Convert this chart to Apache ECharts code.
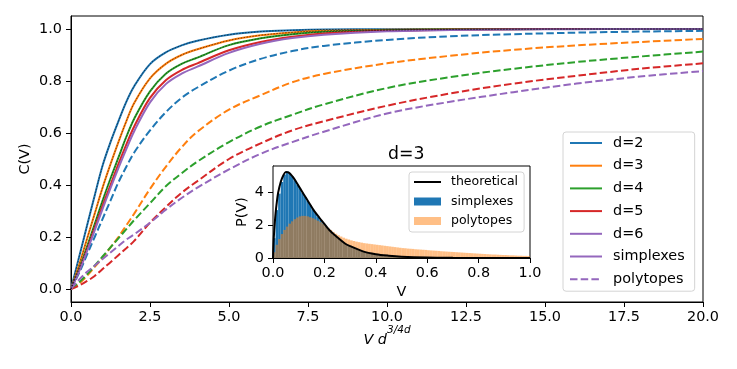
<!DOCTYPE html>
<html>
<head>
<meta charset="utf-8">
<script src="https://cdn.jsdelivr.net/npm/echarts@6/dist/echarts.min.js"></script>
<style>
  html, body { margin: 0; padding: 0; background: #fff; }
  #chart { width: 737px; height: 369px; }
</style>
</head>
<body>
<div id="chart"></div>
<script>
// main plot: cumulative C(V) against rescaled volume
var xs = [0, 0.25, 0.5, 0.75, 1, 1.25, 1.5, 1.75, 2, 2.5, 3, 3.5, 4, 5, 6, 7, 8, 10, 12, 14, 16, 18, 20];

var simplex2 = [0, 0.12, 0.24, 0.36, 0.475, 0.565, 0.645, 0.72, 0.78, 0.865, 0.91, 0.937, 0.955, 0.978, 0.99, 0.995, 0.998, 0.999, 1, 1, 1, 1, 1];
var simplex3 = [0, 0.09, 0.19, 0.29, 0.39, 0.48, 0.565, 0.645, 0.715, 0.81, 0.866, 0.9, 0.922, 0.956, 0.976, 0.987, 0.993, 0.997, 0.999, 1, 1, 1, 1];
var simplex4 = [0, 0.075, 0.16, 0.25, 0.34, 0.425, 0.505, 0.585, 0.655, 0.76, 0.828, 0.866, 0.89, 0.938, 0.964, 0.98, 0.989, 0.995, 0.998, 0.999, 1, 1, 1];
var simplex5 = [0, 0.07, 0.15, 0.235, 0.32, 0.4, 0.48, 0.555, 0.625, 0.735, 0.803, 0.842, 0.868, 0.918, 0.95, 0.97, 0.983, 0.993, 0.997, 0.999, 1, 1, 1];
var simplex6 = [0, 0.066, 0.143, 0.225, 0.308, 0.388, 0.465, 0.538, 0.607, 0.718, 0.788, 0.828, 0.855, 0.908, 0.943, 0.965, 0.978, 0.991, 0.996, 0.998, 0.999, 1, 1];

var poly2 = [0, 0.06, 0.13, 0.2, 0.27, 0.34, 0.41, 0.47, 0.525, 0.61, 0.68, 0.735, 0.775, 0.84, 0.885, 0.915, 0.935, 0.958, 0.972, 0.98, 0.986, 0.99, 0.993];
var poly3 = [0, 0.02, 0.05, 0.085, 0.12, 0.16, 0.2, 0.245, 0.29, 0.385, 0.47, 0.545, 0.605, 0.69, 0.745, 0.795, 0.827, 0.868, 0.897, 0.92, 0.937, 0.95, 0.962];
var poly4 = [0, 0.025, 0.055, 0.09, 0.125, 0.16, 0.195, 0.23, 0.265, 0.33, 0.395, 0.445, 0.49, 0.565, 0.625, 0.67, 0.71, 0.773, 0.815, 0.847, 0.873, 0.894, 0.913];
var poly5 = [0, 0.013, 0.03, 0.05, 0.077, 0.103, 0.13, 0.157, 0.185, 0.255, 0.315, 0.37, 0.415, 0.5, 0.56, 0.61, 0.645, 0.705, 0.752, 0.79, 0.82, 0.847, 0.868];
var poly6 = [0, 0.035, 0.065, 0.09, 0.115, 0.14, 0.165, 0.19, 0.21, 0.255, 0.305, 0.35, 0.39, 0.46, 0.52, 0.565, 0.605, 0.675, 0.72, 0.757, 0.79, 0.817, 0.838];

var dims = ['d=2', 'd=3', 'd=4', 'd=5', 'd=6'];
var colors = ['#1f77b4', '#ff7f0e', '#2ca02c', '#d62728', '#9467bd'];
var simplexCurves = [simplex2, simplex3, simplex4, simplex5, simplex6];
var polyCurves = [poly2, poly3, poly4, poly5, poly6];
// thin dark dotted theory curves sit on top of these simplex curves
var theoryOn = ['d=2', 'd=3', 'd=4'];

var xTicks = [0, 2.5, 5, 7.5, 10, 12.5, 15, 17.5, 20];
var yTicks = [0, 0.2, 0.4, 0.6, 0.8, 1.0];

// inset: d=3 volume histograms, bins of 0.01 from 0
var binWidth = 0.01;
var histSimplex = [1.2, 2.9, 3.9, 4.6, 5.05, 5.25, 5.15, 4.95, 4.7, 4.45,
  4.2, 3.95, 3.7, 3.45, 3.2, 2.95, 2.72, 2.5, 2.3, 2.1,
  1.92, 1.74, 1.57, 1.42, 1.28, 1.15, 1.03, 0.93, 0.84, 0.75,
  0.67, 0.6, 0.53, 0.47, 0.42, 0.37, 0.33, 0.29, 0.26, 0.23,
  0.2, 0.18, 0.16, 0.14, 0.12, 0.105, 0.09, 0.08, 0.07, 0.06,
  0.05, 0.045, 0.04, 0.035, 0.03, 0.026, 0.022, 0.019, 0.016, 0.014,
  0.012, 0.01, 0.008, 0.007, 0.006, 0.005, 0.004, 0.003, 0.003, 0.002];
var histPoly = [0.35, 0.8, 1.15, 1.45, 1.7, 1.9, 2.08, 2.22, 2.35, 2.45,
  2.52, 2.55, 2.55, 2.52, 2.47, 2.41, 2.34, 2.26, 2.17, 2.07,
  1.95, 1.83, 1.7, 1.58, 1.47, 1.38, 1.3, 1.23, 1.17, 1.12,
  1.07, 1.03, 0.99, 0.96, 0.93, 0.9, 0.88, 0.86, 0.84, 0.82,
  0.8, 0.78, 0.76, 0.74, 0.72, 0.7, 0.68, 0.66, 0.64, 0.62,
  0.6, 0.59, 0.57, 0.56, 0.55, 0.53, 0.52, 0.51, 0.5, 0.49,
  0.47, 0.46, 0.45, 0.44, 0.43, 0.41, 0.4, 0.39, 0.38, 0.37,
  0.36, 0.35, 0.34, 0.33, 0.32, 0.31, 0.3, 0.29, 0.28, 0.27,
  0.26, 0.25, 0.24, 0.23, 0.22, 0.21, 0.21, 0.2, 0.19, 0.18,
  0.18, 0.17, 0.16, 0.16, 0.15, 0.14, 0.14, 0.13, 0.13, 0.12];
var theoV = [0, 0.002, 0.005, 0.01, 0.015, 0.02, 0.03, 0.04, 0.05, 0.06, 0.08, 0.1, 0.12, 0.14, 0.16, 0.18, 0.2, 0.22, 0.25, 0.28, 0.3, 0.35, 0.4, 0.45, 0.5, 0.6, 0.7, 0.8, 0.9, 1.0];
var theoP = [0, 0.9, 1.7, 2.7, 3.4, 3.95, 4.6, 5.0, 5.2, 5.18, 4.85, 4.35, 3.85, 3.35, 2.85, 2.45, 2.07, 1.68, 1.25, 0.88, 0.72, 0.4, 0.23, 0.14, 0.08, 0.025, 0.008, 0.003, 0.001, 0];
var insetXTicks = [0, 0.2, 0.4, 0.6, 0.8, 1.0];
var insetYTicks = [0, 2, 4];

var font = 'DejaVu Sans';
var dashed = [7.5, 3.2];

function pairs(xv, yv) {
  return xv.map(function (x, i) { return [x, yv[i]]; });
}
function binPairs(h) {
  return h.map(function (v, i) { return [i * binWidth, v]; });
}
function histRender(params, api) {
  var x0 = api.value(0);
  var p0 = api.coord([x0, 0]);
  var p1 = api.coord([x0 + binWidth, api.value(1)]);
  return {
    type: 'rect',
    shape: { x: p0[0], y: p1[1], width: p1[0] - p0[0], height: p0[1] - p1[1] },
    style: api.style()
  };
}

function axisStyle(extra) {
  var base = {
    axisLine: { show: true, onZero: false, lineStyle: { color: '#000', width: 1 } },
    axisTick: { show: true, length: 5, lineStyle: { color: '#000' } },
    splitLine: { show: false },
    axisLabel: { color: '#000', fontSize: 14.4, fontFamily: font },
    nameTextStyle: { color: '#000', fontSize: 14.4, fontFamily: font },
    nameMoveOverlap: false
  };
  return Object.assign(base, extra);
}

var series = [];
for (var i = 0; i < 5; i++) {
  series.push({
    name: dims[i], type: 'line', xAxisIndex: 0, yAxisIndex: 0,
    data: pairs(xs, simplexCurves[i]), symbol: 'none', smooth: 0.35,
    color: colors[i], lineStyle: { width: 2 }, z: 3
  });
  if (theoryOn.indexOf(dims[i]) >= 0) {
    series.push({
      name: dims[i] + ' theory', type: 'line', xAxisIndex: 0, yAxisIndex: 0,
      data: pairs(xs, simplexCurves[i]), symbol: 'none', smooth: 0.35, silent: true,
      color: 'rgba(0,0,0,0.55)', lineStyle: { width: 1, type: [1.5, 1.5] }, z: 4
    });
  }
  series.push({
    name: dims[i] + ' polytopes', type: 'line', xAxisIndex: 0, yAxisIndex: 0,
    data: pairs(xs, polyCurves[i]), symbol: 'none', smooth: 0.35,
    color: colors[i], lineStyle: { width: 2, type: dashed }, z: 3
  });
}
// legend-only entries
series.push({ name: 'simplexes', type: 'line', data: [], symbol: 'none', color: '#9467bd', lineStyle: { width: 2 } });
series.push({ name: 'polytopes', type: 'line', data: [], symbol: 'none', color: '#9467bd', lineStyle: { width: 2, type: dashed } });

// inset series
series.push({
  name: 'simplexes hist', type: 'custom', xAxisIndex: 1, yAxisIndex: 1, clip: true,
  data: binPairs(histSimplex), renderItem: histRender,
  itemStyle: { color: '#1f77b4' }, z: 5
});
series.push({
  name: 'polytopes hist', type: 'custom', xAxisIndex: 1, yAxisIndex: 1, clip: true,
  data: binPairs(histPoly), renderItem: histRender,
  itemStyle: { color: 'rgba(255,127,14,0.5)' }, z: 6
});
series.push({
  name: 'theoretical', type: 'line', xAxisIndex: 1, yAxisIndex: 1,
  data: pairs(theoV, theoP), symbol: 'none', smooth: 0.3,
  color: '#000', lineStyle: { width: 2 }, z: 7
});

var chart = echarts.init(document.getElementById('chart'), null, { renderer: 'canvas' });
chart.setOption({
  animation: false,
  backgroundColor: '#fff',
  title: {
    text: 'd=3', left: 383, top: 141,
    textStyle: { fontSize: 17.3, fontWeight: 'normal', fontFamily: font, color: '#000' }
  },
  grid: [
    { left: 71, top: 16, right: 34, bottom: 67, show: true, borderColor: '#000', borderWidth: 1, backgroundColor: 'transparent' },
    { left: 273, top: 166, right: 207, bottom: 111, show: true, borderColor: '#000', borderWidth: 1, backgroundColor: '#fff', z: 4 }
  ],
  legend: [
    {
      orient: 'vertical', left: 563, top: 132,
      data: ['d=2', 'd=3', 'd=4', 'd=5', 'd=6', 'simplexes', 'polytopes'],
      itemWidth: 32, itemHeight: 14, itemGap: 8.7, selectedMode: false,
      padding: [4, 10, 5, 6],
      itemStyle: { opacity: 0 },
      backgroundColor: 'rgba(255,255,255,0.8)', borderColor: '#d4d4d4', borderWidth: 1, borderRadius: 3,
      textStyle: { fontSize: 14.4, fontFamily: font, color: '#000', lineHeight: 14, padding: [0, 0, 0, 6] },
      z: 10
    },
    {
      orient: 'vertical', left: 409, top: 172,
      data: [
        { name: 'theoretical', itemStyle: { opacity: 0 } },
        { name: 'simplexes hist', icon: 'rect' },
        { name: 'polytopes hist', icon: 'rect' }
      ],
      formatter: function (n) { return n.replace(' hist', ''); },
      itemWidth: 27, itemHeight: 8, itemGap: 5.5, selectedMode: false,
      padding: [3, 6, 4, 4],
      backgroundColor: 'rgba(255,255,255,0.8)', borderColor: '#d4d4d4', borderWidth: 1, borderRadius: 3,
      textStyle: { fontSize: 12.5, fontFamily: font, color: '#000', lineHeight: 14, padding: [0, 0, 0, 5] },
      z: 10
    }
  ],
  xAxis: [
    axisStyle({
      gridIndex: 0, type: 'value', min: 0, max: 20,
      axisTick: { show: true, length: 5, lineStyle: { color: '#000' }, customValues: xTicks },
      axisLabel: { color: '#000', fontSize: 14.4, fontFamily: font, margin: 8, customValues: xTicks,
        formatter: function (v) { return v.toFixed(1); } },
      name: '{a|V d}{b|3/4d}', nameLocation: 'middle', nameGap: 23,
      nameTextStyle: {
        rich: {
          a: { fontSize: 14.4, fontFamily: font, fontStyle: 'italic', color: '#000', lineHeight: 22, verticalAlign: 'bottom' },
          b: { fontSize: 10.5, fontFamily: font, fontStyle: 'italic', color: '#000', lineHeight: 12, verticalAlign: 'top' }
        }
      }
    }),
    axisStyle({
      gridIndex: 1, type: 'value', min: 0, max: 1,
      axisTick: { show: true, length: 5, lineStyle: { color: '#000' }, customValues: insetXTicks },
      axisLabel: { color: '#000', fontSize: 14.4, fontFamily: font, margin: 8, customValues: insetXTicks,
        formatter: function (v) { return v.toFixed(1); } },
      name: 'V', nameLocation: 'middle', nameGap: 27
    })
  ],
  yAxis: [
    axisStyle({
      gridIndex: 0, type: 'value', min: -0.05, max: 1.05,
      axisTick: { show: true, length: 5, lineStyle: { color: '#000' }, customValues: yTicks },
      axisLabel: { color: '#000', fontSize: 14.4, fontFamily: font, margin: 9, customValues: yTicks,
        formatter: function (v) { return v.toFixed(1); } },
      name: 'C(V)', nameLocation: 'middle', nameGap: 39, nameRotate: 90
    }),
    axisStyle({
      gridIndex: 1, type: 'value', min: 0, max: 5.57,
      axisTick: { show: true, length: 5, lineStyle: { color: '#000' }, customValues: insetYTicks },
      axisLabel: { color: '#000', fontSize: 14.4, fontFamily: font, margin: 9, customValues: insetYTicks },
      name: 'P(V)', nameLocation: 'middle', nameGap: 24, nameRotate: 90
    })
  ],
  series: series
});
</script>
</body>
</html>
